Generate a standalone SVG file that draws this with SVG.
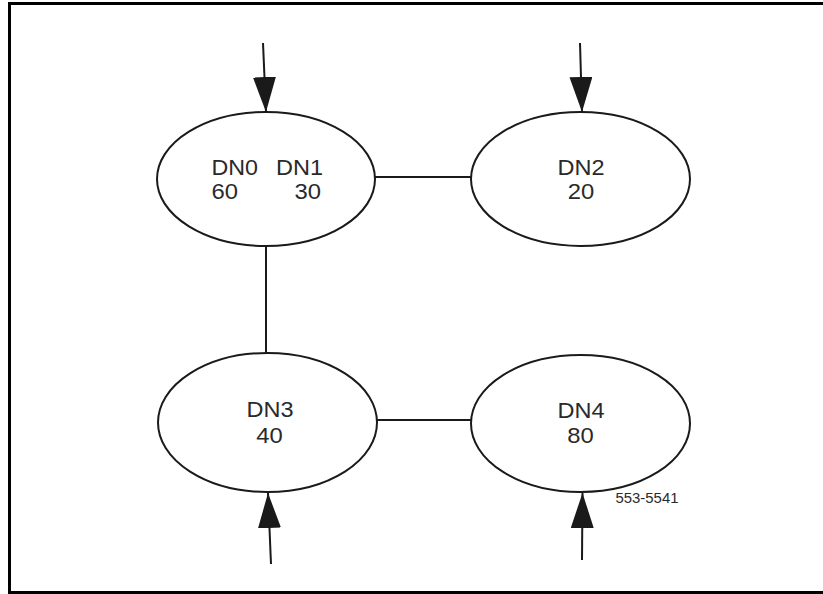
<svg xmlns="http://www.w3.org/2000/svg" width="823" height="594" viewBox="0 0 823 594">
<style>
.node{fill:#fff;stroke:#1a1a1a;stroke-width:2}
.lbl{font-family:"Liberation Sans",Arial,sans-serif;font-size:21.5px;fill:#2a2a2a}
.c{text-anchor:middle}
.conn{stroke:#1a1a1a;stroke-width:2;fill:none}
.small{font-family:"Liberation Sans",Arial,sans-serif;font-size:14px;fill:#2a2a2a}
</style>
<defs>
<marker id="ah" viewBox="0 0 35 23" refX="35" refY="11.5" markerWidth="35" markerHeight="23" markerUnits="userSpaceOnUse" orient="auto">
<path d="M0,0 L35,11.5 L0,23 Z" fill="#1a1a1a"/>
</marker>
</defs>
<rect x="9.5" y="3.5" width="830" height="589" fill="#fff" stroke="#000" stroke-width="3"/>
<g id="connectors">
<line class="conn" x1="375" y1="177" x2="471" y2="177"/>
<line class="conn" x1="266" y1="246" x2="266" y2="353"/>
<line class="conn" x1="377" y1="420" x2="471" y2="420"/>
<line class="conn" x1="263" y1="43" x2="266" y2="112" marker-end="url(#ah)"/>
<line class="conn" x1="580" y1="43" x2="582" y2="112" marker-end="url(#ah)"/>
<line class="conn" x1="271" y1="564" x2="268" y2="493" marker-end="url(#ah)"/>
<line class="conn" x1="582" y1="560" x2="582.5" y2="493" marker-end="url(#ah)"/>
</g>
<g id="n1">
<ellipse class="node" cx="266" cy="179" rx="109" ry="67"/>
<text class="lbl" x="211.5" y="174.5" textLength="46.5" lengthAdjust="spacingAndGlyphs">DN0</text>
<text class="lbl" x="276" y="174.5" textLength="47" lengthAdjust="spacingAndGlyphs">DN1</text>
<text class="lbl" x="211.5" y="199" textLength="26.5" lengthAdjust="spacingAndGlyphs">60</text>
<text class="lbl" x="294.5" y="199" textLength="26.5" lengthAdjust="spacingAndGlyphs">30</text>
</g>
<g id="n2">
<ellipse class="node" cx="580.5" cy="179" rx="109.5" ry="67"/>
<text class="lbl c" x="581" y="174.5" textLength="47" lengthAdjust="spacingAndGlyphs">DN2</text>
<text class="lbl c" x="581" y="199" textLength="26.5" lengthAdjust="spacingAndGlyphs">20</text>
</g>
<g id="n3">
<ellipse class="node" cx="267.5" cy="422.5" rx="109.5" ry="69.5"/>
<text class="lbl c" x="270" y="417" textLength="47" lengthAdjust="spacingAndGlyphs">DN3</text>
<text class="lbl c" x="269.5" y="442.5" textLength="26.5" lengthAdjust="spacingAndGlyphs">40</text>
</g>
<g id="n4">
<ellipse class="node" cx="580.5" cy="423.5" rx="109.5" ry="68.5"/>
<text class="lbl c" x="581" y="418" textLength="47" lengthAdjust="spacingAndGlyphs">DN4</text>
<text class="lbl c" x="580.5" y="442.5" textLength="26.5" lengthAdjust="spacingAndGlyphs">80</text>
</g>
<text class="small" x="615.5" y="503" textLength="63" lengthAdjust="spacingAndGlyphs">553-5541</text>
</svg>
